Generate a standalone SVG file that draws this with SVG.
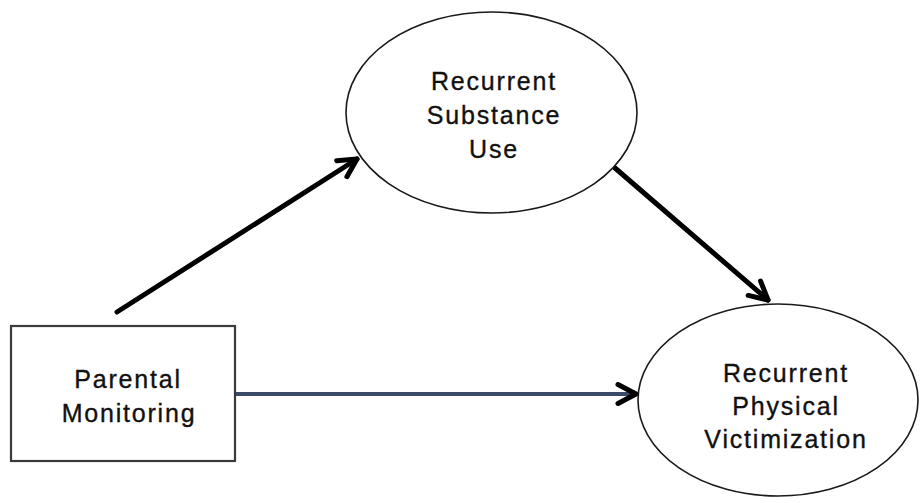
<svg xmlns="http://www.w3.org/2000/svg" width="920" height="503" viewBox="0 0 920 503">
  <style>
    .node-shape { fill: #ffffff; stroke: #1a1a1a; stroke-width: 1.6; }
    .box { fill: #ffffff; stroke: #3a3a3a; stroke-width: 2.2; }
    .label { font-family: "Liberation Sans", Arial, sans-serif; font-size: 25px; letter-spacing: 1.8px; fill: #111111; stroke: #111111; stroke-width: 0.35; text-anchor: middle; }
    .edge { fill: none; stroke: #000000; stroke-width: 5; stroke-linecap: round; }
    .edge-blue { fill: none; stroke: #3b4a66; stroke-width: 4; }
  </style>
  <defs>
    <marker id="chev" viewBox="-24 -14 30 28" markerUnits="userSpaceOnUse" markerWidth="30" markerHeight="28" refX="0" refY="0" orient="auto" overflow="visible">
      <path d="M-18,-9.5 L0,0 L-18,9.5" fill="none" stroke="#000000" stroke-width="5" stroke-linecap="round" stroke-linejoin="round"/>
    </marker>
  </defs>
  <rect width="920" height="503" fill="#ffffff"/>

  <g id="connectors">
    <line class="edge" x1="117" y1="312" x2="357" y2="159" marker-end="url(#chev)"/>
    <line class="edge" x1="615" y1="168" x2="768" y2="300" marker-end="url(#chev)"/>
    <line class="edge-blue" x1="235" y1="394" x2="635" y2="394"/>
    <line x1="630" y1="394" x2="636" y2="394" stroke="none" marker-end="url(#chev)"/>
  </g>

  <g id="node-parental-monitoring">
    <rect class="box" x="11" y="326" width="224" height="135"/>
    <text class="label" x="128" y="388">Parental</text>
    <text class="label" x="129" y="422">Monitoring</text>
  </g>

  <g id="node-substance-use">
    <ellipse class="node-shape" cx="491.5" cy="112.5" rx="145.5" ry="100.5"/>
    <text class="label" x="494" y="90">Recurrent</text>
    <text class="label" x="494" y="124">Substance</text>
    <text class="label" x="494" y="158">Use</text>
  </g>

  <g id="node-physical-victimization">
    <ellipse class="node-shape" cx="778" cy="400" rx="140" ry="96"/>
    <text class="label" x="786" y="382">Recurrent</text>
    <text class="label" x="786" y="415">Physical</text>
    <text class="label" x="786" y="448">Victimization</text>
  </g>
</svg>
